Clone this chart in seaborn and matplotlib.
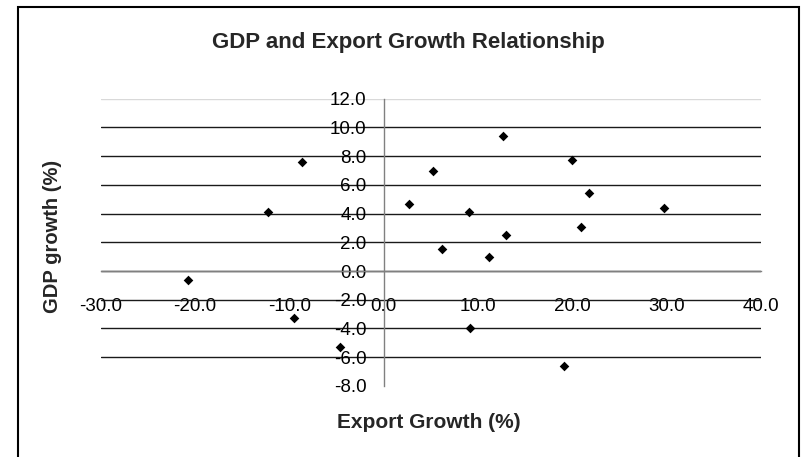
import numpy as np
import pandas as pd
import matplotlib
matplotlib.use("Agg")
import matplotlib.pyplot as plt
from matplotlib.patches import Rectangle
import seaborn as sns

# values
export_growth = [-20.7, -12.3, -8.6, -9.5, -4.6, 2.7, 5.2, 6.2, 9.1, 9.2,
                 11.2, 12.7, 13.0, 20.0, 20.9, 21.8, 29.7, 19.1]
gdp_growth = [-0.6, 4.1, 7.6, -3.3, -5.3, 4.7, 7.0, 1.5, 4.1, -4.0,
              1.0, 9.4, 2.5, 7.7, 3.1, 5.4, 4.4, -6.6]
x_ticks = [-30, -20, -10, 0, 10, 20, 30, 40]
y_ticks = [-8, -6, -4, -2, 0, 2, 4, 6, 8, 10, 12]

df = pd.DataFrame({"export": export_growth, "gdp": gdp_growth})

sns.set_style("white")
plt.rcParams["font.family"] = ["Liberation Sans", "DejaVu Sans"]
plt.rcParams["axes.unicode_minus"] = False

W, H = 804, 457
fig = plt.figure(figsize=(W / 100, H / 100), dpi=100)
ax = fig.add_axes([100.7 / W, 1 - 385.9 / H, 660 / W, 287.2 / H])

ax.set_xlim(-30, 40)
ax.set_ylim(-8, 12)
ax.set_axisbelow(True)

sns.scatterplot(data=df, x="export", y="gdp", marker="D", color="black",
                s=24, linewidth=0, ax=ax, zorder=3)

# axes cross at zero, like the original
for side in ["top", "right"]:
    ax.spines[side].set_visible(False)
ax.spines["left"].set_position(("data", 0))
ax.spines["bottom"].set_position(("data", 0))
for side in ["left", "bottom"]:
    ax.spines[side].set_color("#808080")
    ax.spines[side].set_linewidth(1)

ax.set_xticks(x_ticks)
ax.set_yticks(y_ticks)
ax.set_xticklabels([f"{v:.1f}" for v in x_ticks])
ax.set_yticklabels([f"{v:.1f}" for v in y_ticks])
ax.tick_params(axis="x", direction="out", length=3.6, width=1, color="#808080",
               pad=15.5, labelsize=13.5, labelcolor="black")
ax.tick_params(axis="y", direction="out", length=3.6, width=1, color="#808080",
               pad=8.6, labelsize=13.5, labelcolor="black")
ax.set_xlabel("")
ax.set_ylabel("")

# horizontal gridlines: none at the bottom, the top one is pale
ax.yaxis.grid(True, color="#1a1a1a", linewidth=1)
ax.xaxis.grid(False)
grid = ax.yaxis.get_gridlines()
grid[0].set_visible(False)
grid[-1].set_color("#d9d9d9")

fig.text(408 / W, 1 - 48 / H, "GDP and Export Growth Relationship",
         ha="center", va="baseline", fontsize=16, fontweight="bold")
fig.text(429 / W, 1 - 423 / H, "Export Growth (%)",
         ha="center", va="center", fontsize=15, fontweight="bold")
fig.text(53 / W, 1 - 236 / H, "GDP growth (%)", rotation=90,
         ha="center", va="center", fontsize=14.5, fontweight="bold")

# chart area border
fig.patches.append(Rectangle((18 / W, -0.05), (799 - 18) / W, 1 - 7 / H + 0.05,
                             transform=fig.transFigure, fill=False,
                             edgecolor="black", linewidth=1.5))

fig.savefig("out.png", dpi=100)
